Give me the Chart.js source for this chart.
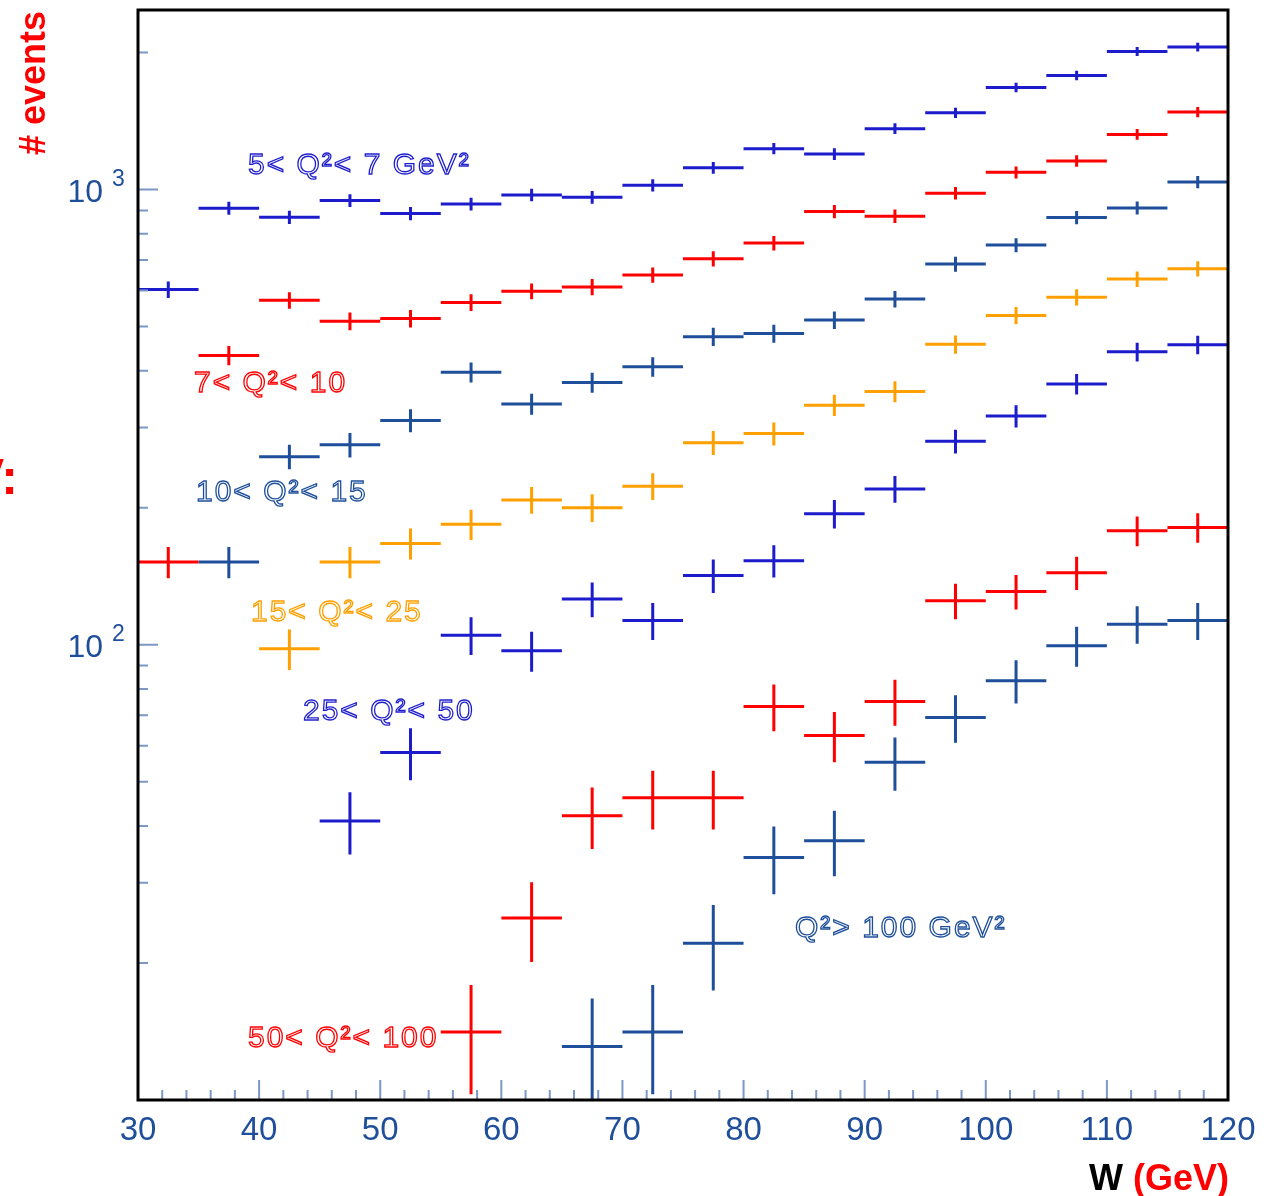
<!DOCTYPE html>
<html>
<head>
<meta charset="utf-8">
<script src="https://cdn.jsdelivr.net/npm/chart.js@4"></script>
<style>
  html, body { margin: 0; padding: 0; background: #fff; }
  canvas { display: block; }
</style>
</head>
<body>
<canvas id="chart" width="1276" height="1196"></canvas>
<script>
// W bin edges (GeV)
const binEdges = [30, 35, 40, 45, 50, 55, 60, 65, 70, 75, 80, 85, 90, 95, 100, 105, 110, 115, 120];

// event counts per Q2 range, first bin index given separately
const q2_5_7 = [603, 910, 869, 946, 886, 930, 973, 962, 1022, 1116, 1230, 1197, 1361, 1475, 1676, 1781, 2011, 2056];
const q2_5_7_err = [25, 30, 29, 31, 30, 30, 31, 31, 32, 33, 35, 35, 37, 38, 41, 42, 45, 45];
const q2_7_10 = [152, 432, 571, 514, 521, 565, 598, 611, 649, 705, 763, 895, 874, 982, 1091, 1156, 1322, 1480];
const q2_7_10_err = [12, 21, 24, 23, 23, 24, 24, 25, 25, 27, 28, 30, 30, 31, 33, 34, 36, 38];
const q2_10_15 = [152, 259, 275, 311, 397, 338, 377, 408, 475, 483, 517, 575, 686, 755, 868, 911, 1039];
const q2_10_15_err = [12, 16, 17, 18, 20, 18, 19, 20, 22, 22, 23, 24, 26, 27, 29, 30, 32];
const q2_15_25 = [98, 152, 167, 184, 208, 200, 223, 278, 291, 336, 360, 457, 529, 580, 636, 670];
const q2_15_25_err = [10, 12, 13, 14, 14, 14, 15, 17, 17, 18, 19, 21, 23, 24, 25, 26];
const q2_25_50 = [41, 58, 105, 97, 126, 113, 142, 153, 194, 220, 280, 318, 374, 440, 456];
const q2_25_50_err = [6.4, 7.6, 10, 9.8, 11, 10.6, 12, 12.4, 14, 14.8, 16.7, 17.8, 19.3, 21, 21.4];
const q2_50_100 = [14.1, 25.1, 42.1, 46.1, 46.1, 73.2, 63.2, 75.1, 125, 131, 144, 178, 181];
const q2_50_100_err = [3.8, 5, 6.5, 6.8, 6.8, 8.6, 8, 8.7, 11.2, 11.4, 12, 13.3, 13.5];
const q2_100 = [13.1, 14.1, 22.1, 34.1, 37.1, 55.2, 69.2, 83.4, 99.5, 111, 113];
const q2_100_err = [3.6, 3.8, 4.7, 5.8, 6.1, 7.4, 8.3, 9.1, 10, 10.5, 10.6];

const seriesLabels = ['5< Q²< 7 GeV²', '7< Q²< 10', '10< Q²< 15', '15< Q²< 25', '25< Q²< 50', '50< Q²< 100', 'Q²> 100 GeV²'];

// ticks
const xMajorTicks = [30, 40, 50, 60, 70, 80, 90, 100, 110, 120];
const xMinorTicks = [32, 34, 36, 38, 42, 44, 46, 48, 52, 54, 56, 58, 62, 64, 66, 68, 72, 74, 76, 78,
                     82, 84, 86, 88, 92, 94, 96, 98, 102, 104, 106, 108, 112, 114, 116, 118];
const yMajorTicks = [100, 1000];
const yMajorLabels = [['10', '2'], ['10', '3']];
const yMinorTicks = [20, 30, 40, 50, 60, 70, 80, 90, 200, 300, 400, 500, 600, 700, 800, 900, 2000];

const BLUE = '#1c1ccc';
const RED = '#ff0000';
const STEEL = '#1f4f9b';
const ORANGE = '#ffa000';
const AXIS_TXT = '#1f4e9a';

const series = [
  { vals: q2_5_7, errs: q2_5_7_err, first: 0, color: BLUE, label: seriesLabels[0], lx: 248, ly: 174 },
  { vals: q2_7_10, errs: q2_7_10_err, first: 0, color: RED, label: seriesLabels[1], lx: 194, ly: 392 },
  { vals: q2_10_15, errs: q2_10_15_err, first: 1, color: STEEL, label: seriesLabels[2], lx: 196, ly: 501 },
  { vals: q2_15_25, errs: q2_15_25_err, first: 2, color: ORANGE, label: seriesLabels[3], lx: 251, ly: 621 },
  { vals: q2_25_50, errs: q2_25_50_err, first: 3, color: BLUE, label: seriesLabels[4], lx: 303, ly: 720 },
  { vals: q2_50_100, errs: q2_50_100_err, first: 5, color: RED, label: seriesLabels[5], lx: 248, ly: 1047 },
  { vals: q2_100, errs: q2_100_err, first: 7, color: STEEL, label: seriesLabels[6], lx: 795, ly: 937 },
];

// each histogram -> one dataset of horizontal bin bars, one of vertical error bars
const datasets = [];
series.forEach(s => {
  const hPts = [], vPts = [];
  s.vals.forEach((v, i) => {
    const lo = binEdges[s.first + i], hi = binEdges[s.first + i + 1];
    const c = (lo + hi) / 2;
    hPts.push({ x: lo, y: v }, { x: hi, y: v }, { x: hi, y: null });
    vPts.push({ x: c, y: v - s.errs[i] }, { x: c, y: v + s.errs[i] }, { x: c, y: null });
  });
  [hPts, vPts].forEach(pts => datasets.push({
    data: pts,
    showLine: true,
    spanGaps: false,
    borderColor: s.color,
    borderWidth: 3,
    pointRadius: 0,
    borderCapStyle: 'butt',
  }));
});

const decor = {
  id: 'decor',
  afterDraw(chart) {
    const { ctx, chartArea: a } = chart;
    const xs = chart.scales.x, ys = chart.scales.y;
    ctx.save();

    // tick marks, inside the frame
    ctx.strokeStyle = '#7b98c6';
    ctx.lineWidth = 2;
    ctx.beginPath();
    xMajorTicks.forEach(t => { const p = xs.getPixelForValue(t); ctx.moveTo(p, a.bottom); ctx.lineTo(p, a.bottom - 20); });
    xMinorTicks.forEach(t => { const p = xs.getPixelForValue(t); ctx.moveTo(p, a.bottom); ctx.lineTo(p, a.bottom - 10); });
    yMajorTicks.forEach(t => { const p = ys.getPixelForValue(t); ctx.moveTo(a.left, p); ctx.lineTo(a.left + 20, p); });
    yMinorTicks.forEach(t => { const p = ys.getPixelForValue(t); ctx.moveTo(a.left, p); ctx.lineTo(a.left + 10, p); });
    ctx.stroke();

    // frame
    ctx.strokeStyle = '#000';
    ctx.lineWidth = 3;
    ctx.strokeRect(a.left, a.top, a.right - a.left, a.bottom - a.top);

    // x tick labels
    ctx.fillStyle = AXIS_TXT;
    ctx.font = '33px "Liberation Sans", Arial, sans-serif';
    ctx.textAlign = 'center';
    ctx.textBaseline = 'alphabetic';
    xMajorTicks.forEach(t => ctx.fillText(String(t), xs.getPixelForValue(t), 1140));

    // y tick labels 10^n
    yMajorTicks.forEach((t, i) => {
      const p = ys.getPixelForValue(t);
      ctx.font = '32px "Liberation Sans", Arial, sans-serif';
      ctx.textAlign = 'right';
      ctx.fillText(yMajorLabels[i][0], 103, p + 12);
      ctx.font = '23px "Liberation Sans", Arial, sans-serif';
      ctx.textAlign = 'left';
      ctx.fillText(yMajorLabels[i][1], 112, p - 4);
    });

    // axis titles
    ctx.font = 'bold 36px "Liberation Sans", Arial, sans-serif';
    ctx.textAlign = 'right';
    ctx.fillStyle = RED;
    ctx.fillText('(GeV)', 1229, 1190);
    const gw = ctx.measureText('(GeV)').width;
    ctx.fillStyle = '#000';
    ctx.fillText('W ', 1229 - gw, 1190);

    ctx.save();
    ctx.translate(45, 155);
    ctx.rotate(-Math.PI / 2);
    ctx.textAlign = 'left';
    ctx.fillStyle = RED;
    ctx.fillText('# events', 0, 0);
    ctx.restore();

    // clipped remnant at the left edge
    ctx.fillStyle = RED;
    ctx.font = 'bold 50px "Liberation Sans", Arial, sans-serif';
    ctx.textAlign = 'right';
    ctx.fillText('V:', 18, 494);

    // range labels, hollow lettering
    ctx.font = '30px "Liberation Sans", Arial, sans-serif';
    ctx.textAlign = 'left';
    ctx.lineWidth = 1.3;
    ctx.letterSpacing = '2px';
    series.forEach(s => {
      ctx.strokeStyle = s.color;
      ctx.strokeText(s.label, s.lx, s.ly);
    });

    ctx.restore();
  }
};

new Chart(document.getElementById('chart'), {
  type: 'scatter',
  data: { datasets },
  options: {
    responsive: false,
    animation: false,
    devicePixelRatio: 1,
    layout: { padding: { left: 138, right: 48, top: 10, bottom: 96 } },
    plugins: { legend: { display: false }, tooltip: { enabled: false } },
    scales: {
      x: { type: 'linear', min: 30, max: 120, display: false },
      y: { type: 'logarithmic', min: 10, max: 2480, display: false },
    },
  },
  plugins: [decor],
});
</script>
</body>
</html>
